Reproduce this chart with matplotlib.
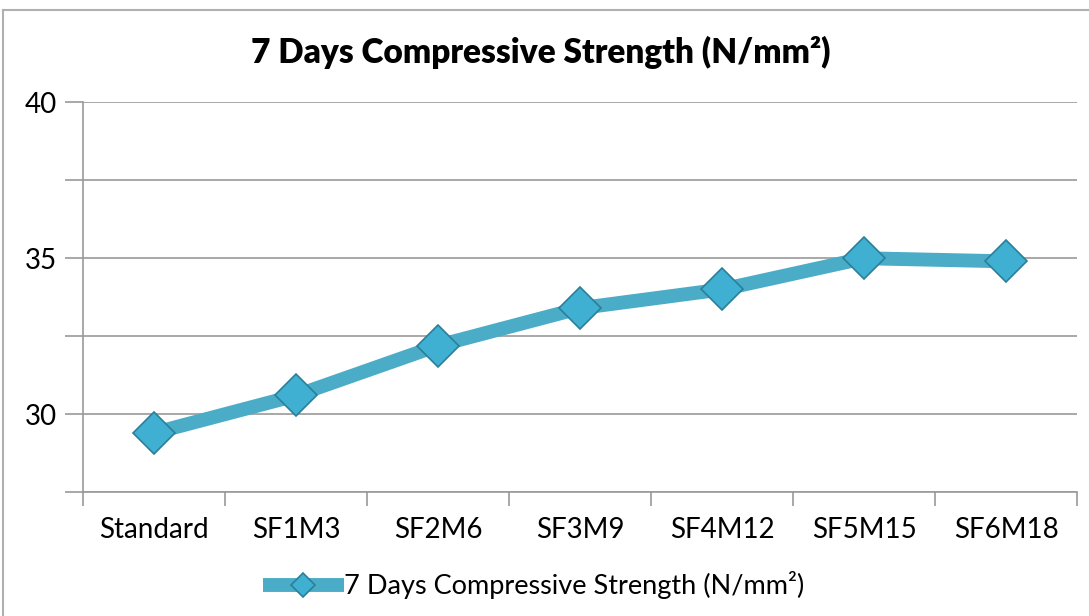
import matplotlib.pyplot as plt
from matplotlib.lines import Line2D

# Mix codes and their 7-day strength values
mixes = ['Standard', 'SF1M3', 'SF2M6', 'SF3M9', 'SF4M12', 'SF5M15', 'SF6M18']
strength_7d = [29.4, 30.6, 32.2, 33.4, 34.0, 35.0, 34.9]
series_name = '7 Days Compressive Strength (N/mm²)'

plt.rcParams['font.family'] = ['Lato', 'DejaVu Sans']

fig = plt.figure(figsize=(10.89, 6.16), dpi=100)
ax = fig.add_axes([0.0762, 0.201, 0.9128, 0.633])

x = list(range(len(mixes)))
ax.plot(x, strength_7d, color='#4aacc6', linewidth=10, solid_capstyle='butt',
        marker='D', markersize=21, markerfacecolor='#3fb0d2',
        markeredgecolor='#2b7f99', markeredgewidth=1.2, zorder=3,
        label=series_name)

ax.set_xlim(-0.5, len(mixes) - 0.5)
ax.set_ylim(27.5, 40)
ax.set_yticks([27.5, 30, 32.5, 35, 37.5, 40])
ax.set_yticklabels(['', '30', '', '35', '', '40'])
ax.set_xticks(x)
ax.set_xticklabels(mixes)
ax.set_xticks([i - 0.5 for i in range(len(mixes) + 1)], minor=True)

ax.grid(axis='y', color='#9a9a9a', linewidth=1.2)
ax.set_axisbelow(True)
for side in ['top', 'right']:
    ax.spines[side].set_visible(False)
for side in ['left', 'bottom']:
    ax.spines[side].set_color('#9a9a9a')
    ax.spines[side].set_linewidth(1.2)

ax.tick_params(axis='y', which='major', length=13, width=1.2, color='#9a9a9a',
               labelsize=20, pad=6)
ax.tick_params(axis='x', which='major', length=0, labelsize=20, pad=18)
ax.tick_params(axis='x', which='minor', length=10, width=1.2, color='#9a9a9a')

# title and legend are centred on the whole chart area, not the plot area
fig.text(0.497, 0.915, series_name, fontsize=24, fontweight='heavy',
         ha='center', va='center')

fig.legend(*ax.get_legend_handles_labels(), loc='center',
           bbox_to_anchor=(0.49, 0.05), frameon=False,
           fontsize=19.5, handlelength=3.0, handletextpad=0.0,
           markerscale=0.6, borderaxespad=0)

# outer chart frame
fig.add_artist(Line2D([0.003, 0.003], [0.0, 0.984], color='#b0b0b0', linewidth=1.5))
fig.add_artist(Line2D([0.003, 1.0], [0.984, 0.984], color='#b0b0b0', linewidth=1.5))

fig.savefig('out.png', dpi=100)
